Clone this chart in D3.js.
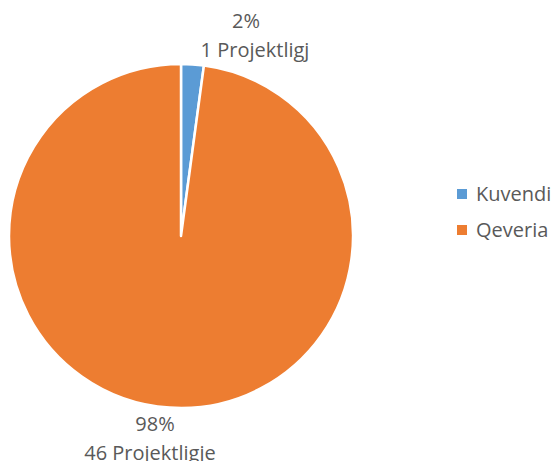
<!DOCTYPE html>
<html>
<head>
<meta charset="utf-8">
<script src="https://cdn.jsdelivr.net/npm/d3@7"></script>
<style>
  body { margin: 0; background: #fff; }
  text { font-family: "Open Sans", "Noto Sans", sans-serif; fill: #595959; }
</style>
</head>
<body>
<svg id="chart" width="555" height="461"></svg>
<script>
// data
const categories = ['Kuvendi', 'Qeveria'];
const values = [1, 46];
const countLabels = ['1 Projektligj', '46 Projektligje'];
const colors = ['#5B9BD5', '#ED7D31'];

const width = 555;
const height = 461;
const cx = 181, cy = 236, radius = 172;

const svg = d3.select('#chart');

const data = categories.map((c, i) => ({ name: c, value: values[i], label: countLabels[i] }));
const total = d3.sum(values);

const pie = d3.pie().value(d => d.value).sort(null);
const arc = d3.arc().innerRadius(0).outerRadius(radius);
const color = d3.scaleOrdinal().domain(categories).range(colors);

const g = svg.append('g').attr('transform', `translate(${cx},${cy})`);

const arcs = pie(data);

g.selectAll('path')
  .data(arcs)
  .enter().append('path')
  .attr('d', arc)
  .attr('fill', d => color(d.data.name))
  .attr('stroke', '#fff')
  .attr('stroke-width', 2.5)
  .attr('stroke-linejoin', 'round');

// data labels (outside end)
const labelPos = [
  { x: 66, y: -208 },
  { x: -27, y: 195 }
];
const pct = d3.format('.0%');

const labels = g.selectAll('.lbl')
  .data(arcs)
  .enter().append('text')
  .attr('class', 'lbl')
  .attr('text-anchor', 'middle')
  .attr('font-size', 20)
  .attr('transform', (d, i) => `translate(${labelPos[i].x},${labelPos[i].y})`);

labels.append('tspan')
  .attr('x', (d, i) => i === 0 ? -1 : 1)
  .attr('y', 0)
  .text(d => pct(d.data.value / total));
labels.append('tspan')
  .attr('x', (d, i) => i === 0 ? 8 : -4)
  .attr('y', 29)
  .text(d => d.data.label);

// legend
const legend = svg.append('g').attr('transform', 'translate(457,194)');
const items = legend.selectAll('g')
  .data(categories)
  .enter().append('g')
  .attr('transform', (d, i) => `translate(0,${i * 36})`);

items.append('rect')
  .attr('x', 0).attr('y', -5)
  .attr('width', 10).attr('height', 10)
  .attr('fill', d => color(d));

items.append('text')
  .attr('x', 19).attr('y', 7)
  .attr('font-size', 20)
  .text(d => d);
</script>
</body>
</html>
